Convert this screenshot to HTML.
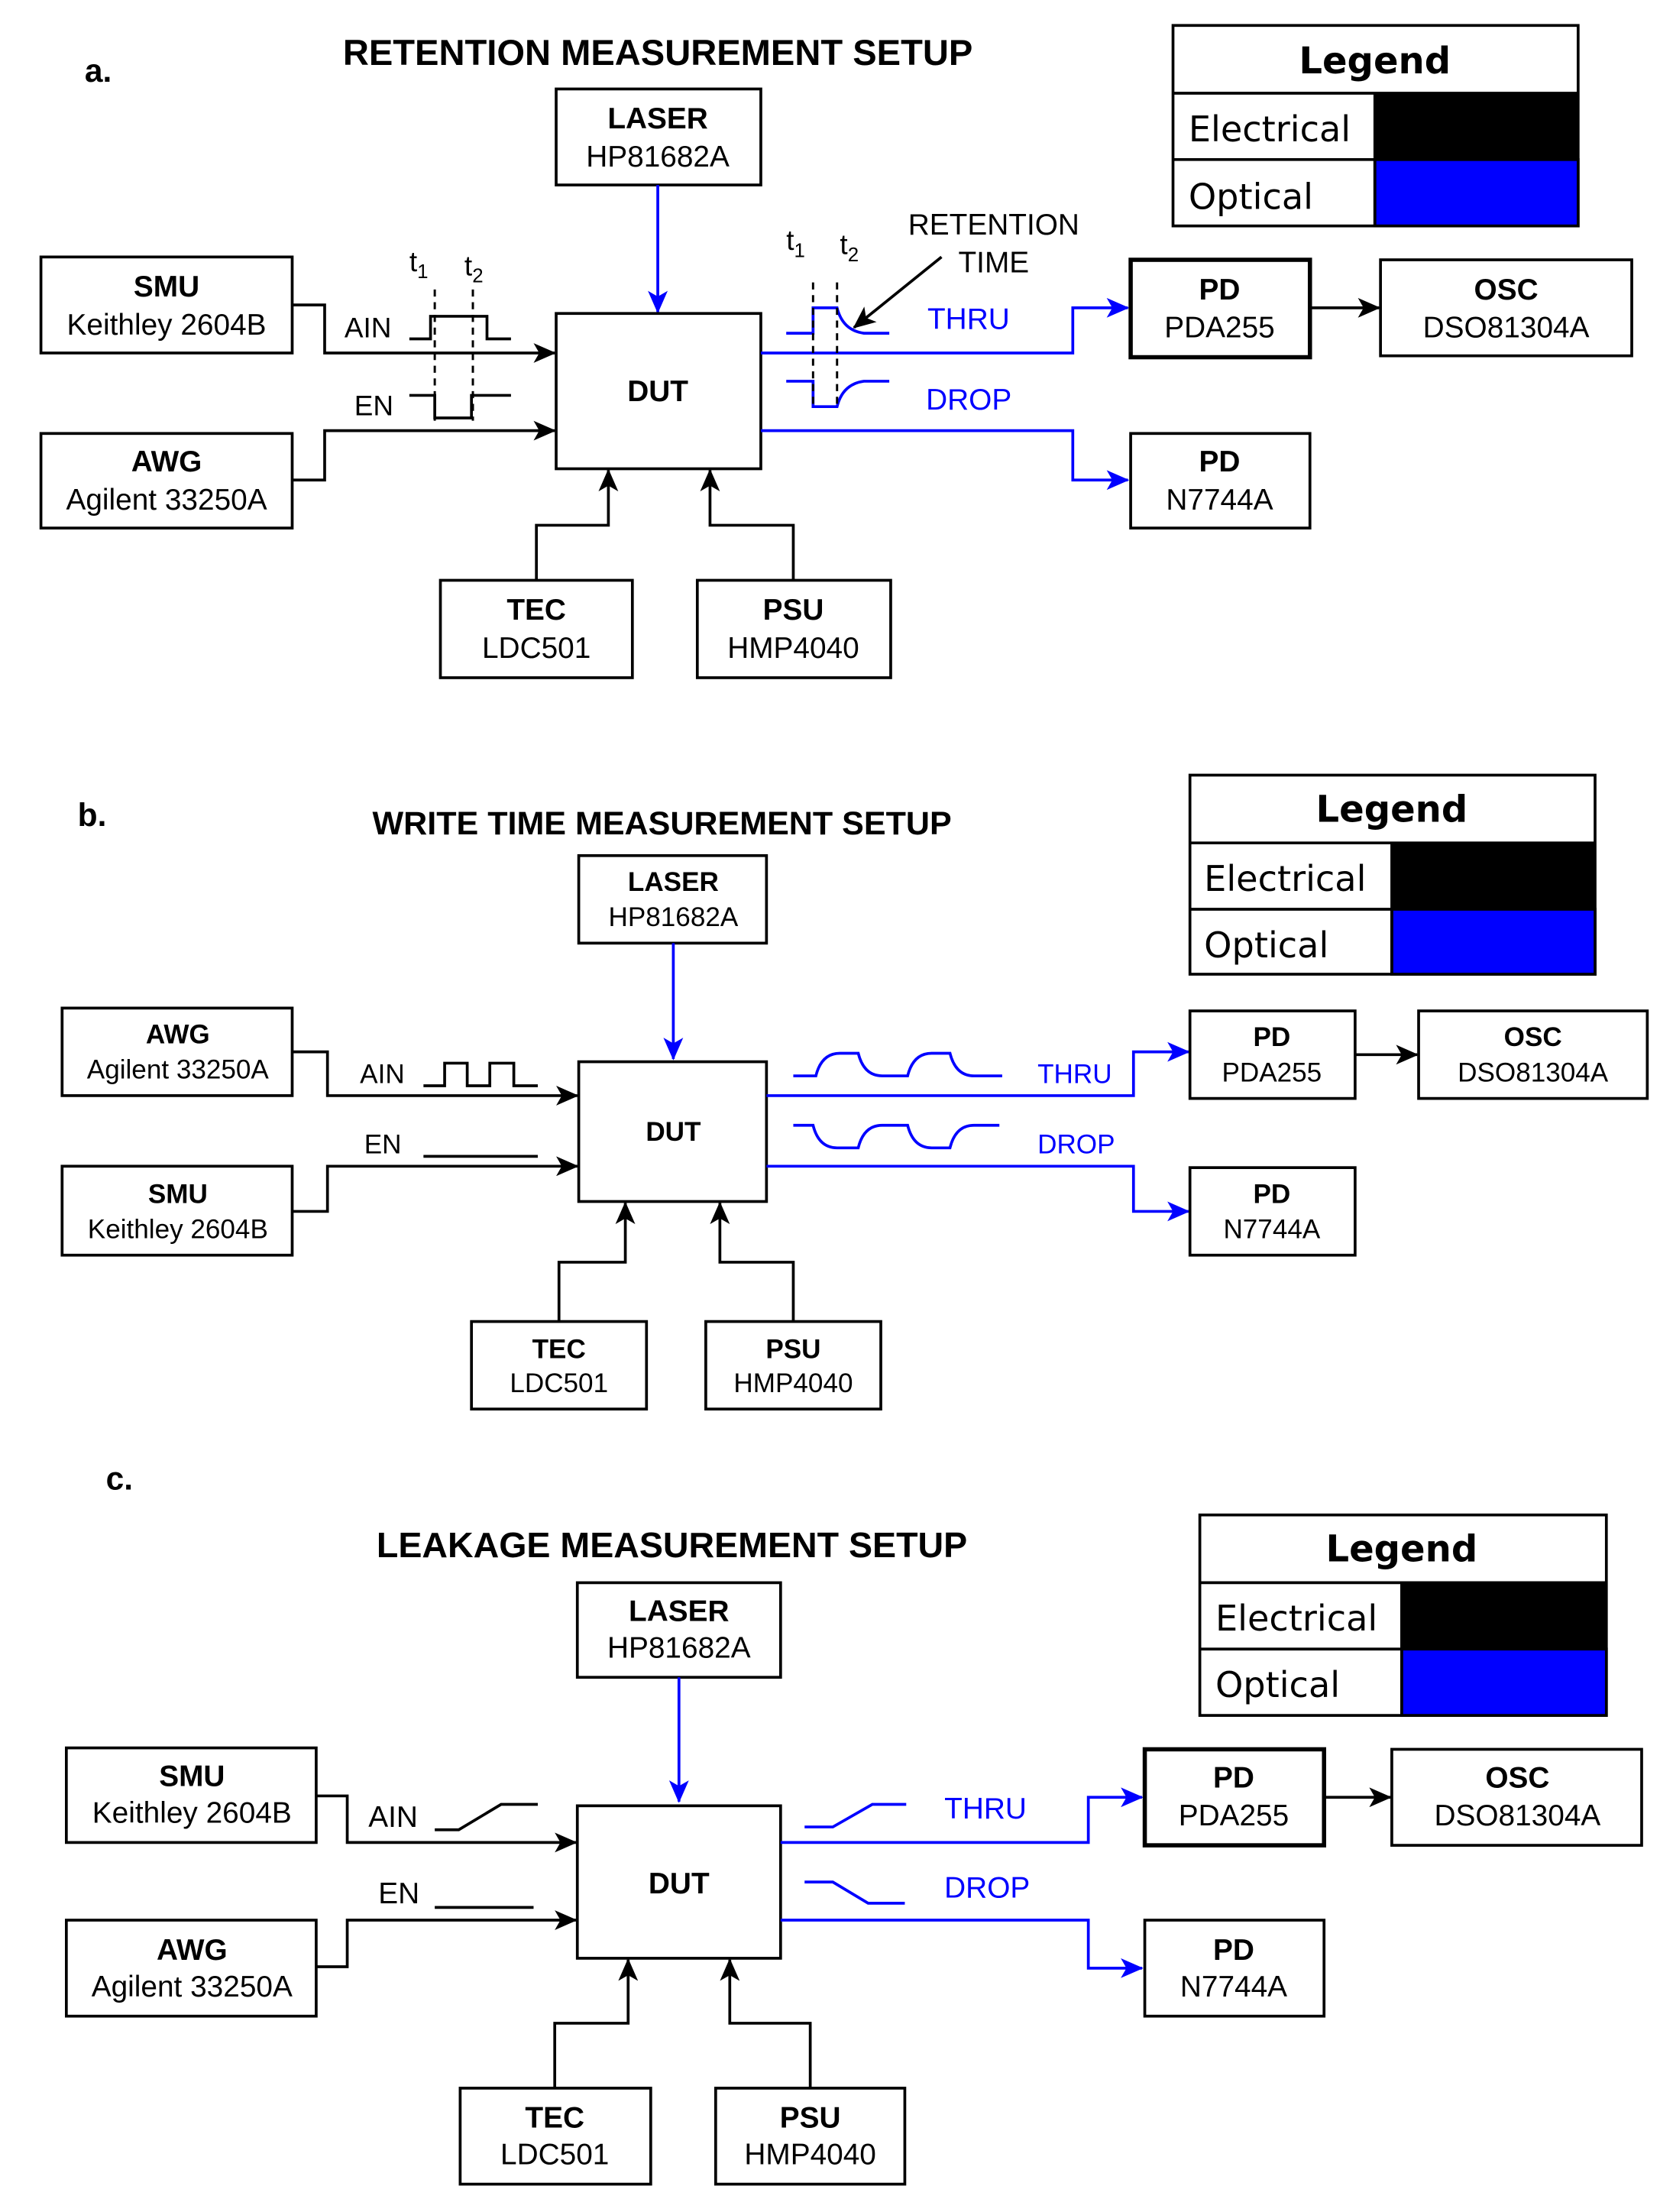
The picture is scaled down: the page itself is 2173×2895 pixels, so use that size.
<!DOCTYPE html>
<html><head><meta charset="utf-8"><style>
html,body{margin:0;padding:0;background:#fff;}
svg{display:block;}
text{font-family:"Liberation Sans",sans-serif;}
.b{font-weight:bold;}
.bx{fill:#fff;stroke:#000;stroke-width:2;}
.k{fill:none;stroke:#000;stroke-width:2;}
.u{fill:none;stroke:#0000ff;stroke-width:2;}
.d{fill:none;stroke:#000;stroke-width:1.6;stroke-dasharray:5,4;}
.lg{font-family:"DejaVu Sans","Liberation Sans",sans-serif;}
</style></head><body>
<svg width="2173" height="2895" viewBox="0 0 1176 1566.7" xmlns="http://www.w3.org/2000/svg">
<defs>
<marker id="ak" markerWidth="16" markerHeight="14" refX="15" refY="7" orient="auto" markerUnits="userSpaceOnUse"><path d="M0,0 L16,7 L0,14 L4,7 z" fill="#000"/></marker>
<marker id="ab" markerWidth="16" markerHeight="14" refX="15" refY="7" orient="auto" markerUnits="userSpaceOnUse"><path d="M0,0 L16,7 L0,14 L4,7 z" fill="#0000ff"/></marker>
</defs>

<!-- ================= PANEL A ================= -->
<text x="60" y="58" font-size="23" class="b">a.</text>
<text x="466" y="46" font-size="25.5" class="b" text-anchor="middle">RETENTION MEASUREMENT SETUP</text>
<rect x="831" y="18" width="287" height="142" class="bx"/>
<line x1="831" y1="66" x2="1118" y2="66" class="k"/>
<line x1="831" y1="113" x2="1118" y2="113" class="k"/>
<rect x="974" y="66" width="144" height="47" fill="#000"/>
<rect x="974" y="113" width="144" height="47" fill="#0000ff" stroke="#000" stroke-width="2"/>
<line x1="974" y1="66" x2="974" y2="160" class="k"/>
<text x="974" y="52" font-size="26" class="b lg" text-anchor="middle">Legend</text>
<text x="842" y="100" font-size="25" class="lg">Electrical</text>
<text x="842" y="148" font-size="25" class="lg">Optical</text>

<rect x="394" y="63" width="145" height="68" class="bx"/>
<text x="466" y="91" font-size="21" class="b" text-anchor="middle">LASER</text>
<text x="466" y="118" font-size="21" text-anchor="middle">HP81682A</text>
<line x1="466" y1="131" x2="466" y2="221" class="u" marker-end="url(#ab)"/>

<rect x="29" y="182" width="178" height="68" class="bx"/>
<text x="118" y="210" font-size="21" class="b" text-anchor="middle">SMU</text>
<text x="118" y="237" font-size="21" text-anchor="middle">Keithley 2604B</text>
<rect x="29" y="307" width="178" height="67" class="bx"/>
<text x="118" y="334" font-size="21" class="b" text-anchor="middle">AWG</text>
<text x="118" y="361" font-size="21" text-anchor="middle">Agilent 33250A</text>

<rect x="394" y="222" width="145" height="110" class="bx"/>
<text x="466" y="284" font-size="21" class="b" text-anchor="middle">DUT</text>

<path d="M207,216 H230 V250 H393" class="k" marker-end="url(#ak)"/>
<path d="M207,340 H230 V305 H393" class="k" marker-end="url(#ak)"/>
<text x="244" y="239" font-size="20">AIN</text>
<path d="M290,240 H305 V224 H345 V240 H362" class="k"/>
<text x="251" y="294" font-size="20">EN</text>
<path d="M290,280 H308 V296 H334 V280 H362" class="k"/>
<line x1="308" y1="205" x2="308" y2="298" class="d"/>
<line x1="335" y1="205" x2="335" y2="298" class="d"/>
<text x="290" y="192" font-size="20">t<tspan font-size="14" dy="5">1</tspan></text>
<text x="329" y="195" font-size="20">t<tspan font-size="14" dy="5">2</tspan></text>

<path d="M539,250 H760 V218 H799" class="u" marker-end="url(#ab)"/>
<path d="M539,305 H760 V340 H799" class="u" marker-end="url(#ab)"/>
<path d="M557,236 H576 V218 H593 Q597,234 612,236 H630" class="u"/>
<path d="M557,270 H576 V288 H593 Q597,272 612,270 H630" class="u"/>
<line x1="576" y1="200" x2="576" y2="290" class="d"/>
<line x1="593" y1="200" x2="593" y2="290" class="d"/>
<text x="557" y="177" font-size="20">t<tspan font-size="14" dy="5">1</tspan></text>
<text x="595" y="180" font-size="20">t<tspan font-size="14" dy="5">2</tspan></text>
<text x="704" y="166" font-size="21" text-anchor="middle">RETENTION</text>
<text x="704" y="193" font-size="21" text-anchor="middle">TIME</text>
<line x1="667" y1="182" x2="605" y2="232" stroke="#000" stroke-width="2" marker-end="url(#ak)"/>
<text x="657" y="233" font-size="21" fill="#0000ff">THRU</text>
<text x="656" y="290" font-size="21" fill="#0000ff">DROP</text>

<rect x="801" y="184" width="127" height="69" fill="#fff" stroke="#000" stroke-width="3"/>
<text x="864" y="212" font-size="21" class="b" text-anchor="middle">PD</text>
<text x="864" y="239" font-size="21" text-anchor="middle">PDA255</text>
<rect x="978" y="184" width="178" height="68" class="bx"/>
<text x="1067" y="212" font-size="21" class="b" text-anchor="middle">OSC</text>
<text x="1067" y="239" font-size="21" text-anchor="middle">DSO81304A</text>
<line x1="928" y1="218" x2="977" y2="218" class="k" marker-end="url(#ak)"/>
<rect x="801" y="307" width="127" height="67" class="bx"/>
<text x="864" y="334" font-size="21" class="b" text-anchor="middle">PD</text>
<text x="864" y="361" font-size="21" text-anchor="middle">N7744A</text>

<rect x="312" y="411" width="136" height="69" class="bx"/>
<text x="380" y="439" font-size="21" class="b" text-anchor="middle">TEC</text>
<text x="380" y="466" font-size="21" text-anchor="middle">LDC501</text>
<rect x="494" y="411" width="137" height="69" class="bx"/>
<text x="562" y="439" font-size="21" class="b" text-anchor="middle">PSU</text>
<text x="562" y="466" font-size="21" text-anchor="middle">HMP4040</text>
<path d="M380,411 V372 H431 V333" class="k" marker-end="url(#ak)"/>
<path d="M562,411 V372 H503 V333" class="k" marker-end="url(#ak)"/>

<!-- ================= PANEL B ================= -->
<text x="55" y="585" font-size="23" class="b">b.</text>
<text x="469" y="591" font-size="23.3" class="b" text-anchor="middle">WRITE TIME MEASUREMENT SETUP</text>
<rect x="843" y="549" width="287" height="141" class="bx"/>
<line x1="843" y1="597" x2="1130" y2="597" class="k"/>
<line x1="843" y1="644" x2="1130" y2="644" class="k"/>
<rect x="986" y="597" width="144" height="47" fill="#000"/>
<rect x="986" y="644" width="144" height="46" fill="#0000ff" stroke="#000" stroke-width="2"/>
<line x1="986" y1="597" x2="986" y2="690" class="k"/>
<text x="986" y="582" font-size="26" class="b lg" text-anchor="middle">Legend</text>
<text x="853" y="631" font-size="25" class="lg">Electrical</text>
<text x="853" y="678" font-size="25" class="lg">Optical</text>

<rect x="410" y="606" width="133" height="62" class="bx"/>
<text x="477" y="631" font-size="19" class="b" text-anchor="middle">LASER</text>
<text x="477" y="656" font-size="19" text-anchor="middle">HP81682A</text>
<line x1="477" y1="668" x2="477" y2="750" class="u" marker-end="url(#ab)"/>

<rect x="44" y="714" width="163" height="62" class="bx"/>
<text x="126" y="739" font-size="19" class="b" text-anchor="middle">AWG</text>
<text x="126" y="764" font-size="19" text-anchor="middle">Agilent 33250A</text>
<rect x="44" y="826" width="163" height="63" class="bx"/>
<text x="126" y="852" font-size="19" class="b" text-anchor="middle">SMU</text>
<text x="126" y="877" font-size="19" text-anchor="middle">Keithley 2604B</text>

<rect x="410" y="752" width="133" height="99" class="bx"/>
<text x="477" y="808" font-size="19" class="b" text-anchor="middle">DUT</text>
<path d="M207,745 H232 V776 H409" class="k" marker-end="url(#ak)"/>
<path d="M207,858 H232 V826 H409" class="k" marker-end="url(#ak)"/>
<text x="255" y="767" font-size="19">AIN</text>
<path d="M300,769 H315 V753 H331 V769 H347 V753 H364 V769 H381" class="k"/>
<text x="258" y="817" font-size="19">EN</text>
<line x1="300" y1="819" x2="381" y2="819" class="k"/>

<path d="M543,776 H803 V745 H842" class="u" marker-end="url(#ab)"/>
<path d="M543,826 H803 V858 H842" class="u" marker-end="url(#ab)"/>
<path d="M562,762 H578 Q582,746 595,746 H608 Q612,762 625,762 H643 Q647,746 660,746 H673 Q677,762 690,762 H710" class="u"/>
<path d="M562,797 H576 Q580,813 593,813 H608 Q612,797 625,797 H643 Q647,813 660,813 H673 Q677,797 690,797 H708" class="u"/>
<text x="735" y="767" font-size="19" fill="#0000ff">THRU</text>
<text x="735" y="817" font-size="19" fill="#0000ff">DROP</text>

<rect x="843" y="716" width="117" height="62" class="bx"/>
<text x="901" y="741" font-size="19" class="b" text-anchor="middle">PD</text>
<text x="901" y="766" font-size="19" text-anchor="middle">PDA255</text>
<rect x="1005" y="716" width="162" height="62" class="bx"/>
<text x="1086" y="741" font-size="19" class="b" text-anchor="middle">OSC</text>
<text x="1086" y="766" font-size="19" text-anchor="middle">DSO81304A</text>
<line x1="960" y1="747" x2="1004" y2="747" class="k" marker-end="url(#ak)"/>
<rect x="843" y="827" width="117" height="62" class="bx"/>
<text x="901" y="852" font-size="19" class="b" text-anchor="middle">PD</text>
<text x="901" y="877" font-size="19" text-anchor="middle">N7744A</text>

<rect x="334" y="936" width="124" height="62" class="bx"/>
<text x="396" y="962" font-size="19" class="b" text-anchor="middle">TEC</text>
<text x="396" y="986" font-size="19" text-anchor="middle">LDC501</text>
<rect x="500" y="936" width="124" height="62" class="bx"/>
<text x="562" y="962" font-size="19" class="b" text-anchor="middle">PSU</text>
<text x="562" y="986" font-size="19" text-anchor="middle">HMP4040</text>
<path d="M396,936 V894 H443 V852" class="k" marker-end="url(#ak)"/>
<path d="M562,936 V894 H510 V852" class="k" marker-end="url(#ak)"/>

<!-- ================= PANEL C ================= -->
<text x="75" y="1055" font-size="23" class="b">c.</text>
<text x="476" y="1103" font-size="25.2" class="b" text-anchor="middle">LEAKAGE MEASUREMENT SETUP</text>
<rect x="850" y="1073" width="288" height="142" class="bx"/>
<line x1="850" y1="1121" x2="1138" y2="1121" class="k"/>
<line x1="850" y1="1168" x2="1138" y2="1168" class="k"/>
<rect x="993" y="1121" width="145" height="47" fill="#000"/>
<rect x="993" y="1168" width="145" height="47" fill="#0000ff" stroke="#000" stroke-width="2"/>
<line x1="993" y1="1121" x2="993" y2="1215" class="k"/>
<text x="993" y="1106" font-size="26" class="b lg" text-anchor="middle">Legend</text>
<text x="861" y="1155" font-size="25" class="lg">Electrical</text>
<text x="861" y="1202" font-size="25" class="lg">Optical</text>

<rect x="409" y="1121" width="144" height="67" class="bx"/>
<text x="481" y="1148" font-size="21" class="b" text-anchor="middle">LASER</text>
<text x="481" y="1174" font-size="21" text-anchor="middle">HP81682A</text>
<line x1="481" y1="1188" x2="481" y2="1276" class="u" marker-end="url(#ab)"/>

<rect x="47" y="1238" width="177" height="67" class="bx"/>
<text x="136" y="1265" font-size="21" class="b" text-anchor="middle">SMU</text>
<text x="136" y="1291" font-size="21" text-anchor="middle">Keithley 2604B</text>
<rect x="47" y="1360" width="177" height="68" class="bx"/>
<text x="136" y="1388" font-size="21" class="b" text-anchor="middle">AWG</text>
<text x="136" y="1414" font-size="21" text-anchor="middle">Agilent 33250A</text>

<rect x="409" y="1279" width="144" height="108" class="bx"/>
<text x="481" y="1341" font-size="21" class="b" text-anchor="middle">DUT</text>
<path d="M224,1272 H246 V1305 H408" class="k" marker-end="url(#ak)"/>
<path d="M224,1393 H246 V1360 H408" class="k" marker-end="url(#ak)"/>
<text x="261" y="1294" font-size="21">AIN</text>
<path d="M308,1296 H325 L355,1278 H381" class="k"/>
<text x="268" y="1348" font-size="21">EN</text>
<line x1="308" y1="1351" x2="378" y2="1351" class="k"/>

<path d="M553,1305 H771 V1273 H809" class="u" marker-end="url(#ab)"/>
<path d="M553,1360 H771 V1394 H809" class="u" marker-end="url(#ab)"/>
<path d="M570,1294 H590 L618,1278 H642" class="u"/>
<path d="M570,1333 H590 L615,1348 H641" class="u"/>
<text x="669" y="1288" font-size="21" fill="#0000ff">THRU</text>
<text x="669" y="1344" font-size="21" fill="#0000ff">DROP</text>

<rect x="811" y="1239" width="127" height="68" fill="#fff" stroke="#000" stroke-width="3"/>
<text x="874" y="1266" font-size="21" class="b" text-anchor="middle">PD</text>
<text x="874" y="1293" font-size="21" text-anchor="middle">PDA255</text>
<rect x="986" y="1239" width="177" height="68" class="bx"/>
<text x="1075" y="1266" font-size="21" class="b" text-anchor="middle">OSC</text>
<text x="1075" y="1293" font-size="21" text-anchor="middle">DSO81304A</text>
<line x1="938" y1="1273" x2="985" y2="1273" class="k" marker-end="url(#ak)"/>
<rect x="811" y="1360" width="127" height="68" class="bx"/>
<text x="874" y="1388" font-size="21" class="b" text-anchor="middle">PD</text>
<text x="874" y="1414" font-size="21" text-anchor="middle">N7744A</text>

<rect x="326" y="1479" width="135" height="68" class="bx"/>
<text x="393" y="1507" font-size="21" class="b" text-anchor="middle">TEC</text>
<text x="393" y="1533" font-size="21" text-anchor="middle">LDC501</text>
<rect x="507" y="1479" width="134" height="68" class="bx"/>
<text x="574" y="1507" font-size="21" class="b" text-anchor="middle">PSU</text>
<text x="574" y="1533" font-size="21" text-anchor="middle">HMP4040</text>
<path d="M393,1479 V1433 H445 V1388" class="k" marker-end="url(#ak)"/>
<path d="M574,1479 V1433 H517 V1388" class="k" marker-end="url(#ak)"/>
</svg>
</body></html>
